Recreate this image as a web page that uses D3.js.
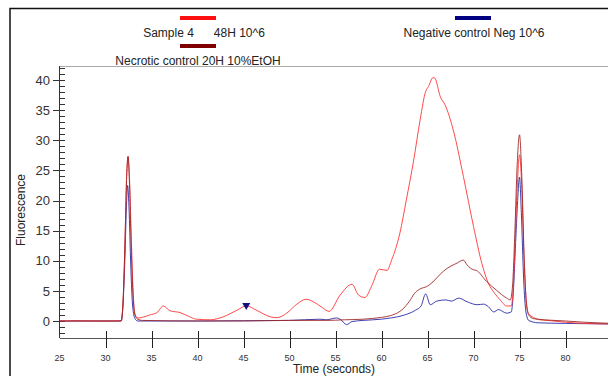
<!DOCTYPE html>
<html>
<head>
<meta charset="utf-8">
<script src="https://cdn.jsdelivr.net/npm/d3@7"></script>
<style>
  body { margin: 0; background: #fff; }
  svg { display: block; font-family: "Liberation Sans", Arial, sans-serif; }
</style>
</head>
<body>
<div id="chart"></div>
<script>
// Sample 4  48H 10^6
const sampleT = [25, 27, 29, 31, 31.7, 31.9, 32.1, 32.3, 32.45, 32.6, 32.8, 33.0, 33.2, 33.5, 34, 34.8, 35.6, 36.3, 37.0, 38.1, 39.0, 39.9, 41.4, 42.8, 44.3, 45.3, 46.4, 47.9, 48.6, 49.7, 50.8, 51.8, 52.6, 53.5, 54.3, 55.5, 56.8, 57.5, 58.2, 58.9, 59.8, 60.6, 61.1, 62.0, 62.7, 63.5, 64.2, 64.8, 65.1, 65.6, 65.8, 66.4, 66.9, 67.8, 68.9, 70.0, 70.9, 71.6, 72.3, 72.9, 73.6, 74.1, 74.3, 74.5, 74.75, 75.0, 75.25, 75.5, 75.75, 76.0, 76.5, 77.2, 78, 80, 82, 85];
const sampleV = [0, 0.05, 0, 0, 0.1, 3, 12, 24, 27.3, 24, 14, 5, 1.2, 0.5, 0.6, 1.0, 1.4, 2.5, 1.7, 1.4, 0.8, 0.3, 0.2, 0.7, 1.8, 2.5, 1.8, 0.7, 0.55, 1.3, 2.8, 3.6, 3.2, 2.3, 1.6, 4.3, 6.1, 4.3, 3.9, 5.7, 8.6, 8.4, 10.1, 14.6, 20.1, 26.7, 33.4, 38.1, 38.9, 40.4, 40.3, 37.2, 35.9, 31.7, 24.0, 15.7, 9.6, 6.3, 4.6, 3.5, 2.5, 2.5, 5, 12, 22, 27.6, 22, 10, 3, 1.2, 0.6, 0.2, 0.1, -0.2, -0.4, -0.5];

// Necrotic control 20H 10%EtOH
const necroticT = [25, 31.7, 31.9, 32.1, 32.3, 32.45, 32.6, 32.8, 33.0, 33.2, 33.5, 34, 40, 45, 50, 54, 56, 58, 60, 61, 62, 62.4, 63, 63.6, 64.3, 64.9, 65.6, 66.4, 67.1, 68.2, 68.9, 69.3, 70.0, 70.3, 71.4, 72.5, 73.6, 74.0, 74.25, 74.5, 74.75, 75.0, 75.25, 75.5, 75.75, 76.0, 76.5, 77, 80, 82, 85];
const necroticV = [0, 0, 3, 12, 24, 27.3, 23, 12, 4, 1, 0.3, 0.1, 0, 0, 0.1, 0.1, 0.2, 0.3, 0.6, 0.9, 1.6, 2.1, 3.2, 4.6, 5.4, 5.7, 6.5, 7.8, 8.7, 9.6, 10.1, 9.3, 8.5, 8.4, 6.6, 5.1, 3.8, 3.5, 6, 15, 26, 30.9, 24, 11, 3, 1.0, 0.4, 0.3, 0, -0.2, -0.4];

// Negative control Neg 10^6
const negativeT = [25, 31.7, 31.9, 32.1, 32.3, 32.4, 32.55, 32.75, 32.95, 33.2, 33.5, 40, 45, 50, 53.3, 54, 55.1, 55.6, 56.2, 56.8, 58, 60, 61, 62.5, 63.7, 64.3, 64.8, 65.3, 66, 67, 67.6, 68.4, 69.3, 70.4, 71.1, 71.6, 72.2, 72.7, 73.6, 74.1, 74.3, 74.55, 74.8, 75.0, 75.2, 75.45, 75.7, 76.0, 77, 80, 85];
const negativeV = [0, 0, 2.5, 10, 20, 22.5, 19, 9, 2.5, 0.4, 0, 0, 0.05, 0.1, 0.3, 0.2, 0.5, 0.2, -0.6, -0.1, 0.1, 0.3, 0.5, 1.0, 1.8, 2.5, 4.5, 2.7, 3.3, 3.5, 3.3, 3.8, 3.2, 2.7, 2.8, 2.4, 1.5, 1.9, 1.3, 1.5, 4, 12, 20, 23.9, 18, 7, 1.5, 0.1, -0.3, -0.4, -0.5];

const xTicks = [25, 30, 35, 40, 45, 50, 55, 60, 65, 70, 75, 80];
const yTicks = [0, 5, 10, 15, 20, 25, 30, 35, 40];
const marker = {t: 45.3, v: 2.6};

const W = 608, H = 376;
const plot = {left: 60, right: 608, top: 66, bottom: 338};

const svg = d3.select("#chart").append("svg")
  .attr("width", W).attr("height", H);

// outer frame
svg.append("path")
  .attr("d", `M10,${H} L10,8.5 L${W},8.5`)
  .attr("fill", "none").attr("stroke", "#111").attr("stroke-width", 1.5);

const x = d3.scaleLinear().domain([25, 80]).range([59.5, 565.5]);
const y = d3.scaleLinear().domain([0, 40]).range([321, 80]);

// plot frame top line
svg.append("line")
  .attr("x1", plot.left).attr("x2", plot.right)
  .attr("y1", plot.top + 0.5).attr("y2", plot.top + 0.5)
  .attr("stroke", "#aaa");

svg.append("clipPath").attr("id", "clip")
  .append("rect")
  .attr("x", plot.left).attr("y", plot.top)
  .attr("width", plot.right - plot.left).attr("height", plot.bottom - plot.top);

// y axis
const yAxis = svg.append("g");
yAxis.append("line")
  .attr("x1", 59.5).attr("x2", 59.5)
  .attr("y1", plot.top).attr("y2", plot.bottom)
  .attr("stroke", "#333");
const minor = d3.range(-2, 43);
yAxis.selectAll(".minor").data(minor).enter().append("line")
  .attr("x1", 59.5).attr("x2", 65)
  .attr("y1", d => Math.round(y(d)) + 0.5).attr("y2", d => Math.round(y(d)) + 0.5)
  .attr("stroke", "#333");
yAxis.selectAll(".major").data(yTicks).enter().append("line")
  .attr("x1", 53).attr("x2", 65)
  .attr("y1", d => Math.round(y(d)) + 0.5).attr("y2", d => Math.round(y(d)) + 0.5)
  .attr("stroke", "#333");
yAxis.selectAll("text").data(yTicks).enter().append("text")
  .attr("x", 50).attr("y", d => y(d))
  .attr("dy", "0.36em")
  .attr("text-anchor", "end")
  .attr("font-size", 13).attr("fill", "#333")
  .text(d => d);

svg.append("text")
  .attr("transform", "translate(25,210) rotate(-90)")
  .attr("text-anchor", "middle")
  .attr("font-size", 12).attr("fill", "#222")
  .text("Fluorescence");

// x axis
const xAxis = svg.append("g");
xAxis.append("line")
  .attr("x1", plot.left).attr("x2", plot.right)
  .attr("y1", plot.bottom + 0.5).attr("y2", plot.bottom + 0.5)
  .attr("stroke", "#555");
xAxis.selectAll(".tick").data(xTicks.slice(1)).enter().append("line")
  .attr("x1", d => Math.round(x(d)) + 0.5).attr("x2", d => Math.round(x(d)) + 0.5)
  .attr("y1", 331).attr("y2", 348)
  .attr("stroke", "#222");
xAxis.selectAll("text").data(xTicks).enter().append("text")
  .attr("x", d => x(d)).attr("y", 361)
  .attr("text-anchor", "middle")
  .attr("font-size", 9).attr("fill", "#333")
  .text(d => d);

svg.append("text")
  .attr("x", 334).attr("y", 373)
  .attr("text-anchor", "middle")
  .attr("font-size", 12).attr("fill", "#222")
  .text("Time (seconds)");

// lines
const line = d3.line()
  .x(d => x(d[0]))
  .y(d => y(d[1]))
  .curve(d3.curveMonotoneX);

const series = [
  {t: negativeT, v: negativeV, color: "#2a2aa8"},
  {t: sampleT, v: sampleV, color: "#ff3535"},
  {t: necroticT, v: necroticV, color: "#a02828"}
];

const lines = svg.append("g").attr("clip-path", "url(#clip)");
series.forEach(s => {
  lines.append("path")
    .datum(d3.zip(s.t, s.v))
    .attr("fill", "none")
    .attr("stroke", s.color)
    .attr("stroke-width", 0.9)
    .attr("d", line);
});

// marker
svg.append("path")
  .attr("d", d3.symbol(d3.symbolTriangle, 28)())
  .attr("transform", `translate(${x(marker.t)},${y(marker.v)}) rotate(180)`)
  .attr("fill", "#101080");

// legend
const legend = [
  {label: "Sample 4      48H 10^6", color: "#ff1010", sx: 180, sy: 16, tx: 204, ty: 37},
  {label: "Necrotic control 20H 10%EtOH", color: "#800000", sx: 180, sy: 44, tx: 198, ty: 65},
  {label: "Negative control Neg 10^6", color: "#000080", sx: 455, sy: 16, tx: 474, ty: 37}
];
const lg = svg.append("g");
lg.selectAll("rect").data(legend).enter().append("rect")
  .attr("x", d => d.sx).attr("y", d => d.sy)
  .attr("width", 36).attr("height", 4)
  .attr("fill", d => d.color);
lg.selectAll("text").data(legend).enter().append("text")
  .attr("x", d => d.tx).attr("y", d => d.ty)
  .attr("text-anchor", "middle")
  .attr("font-size", 12).attr("fill", "#222")
  .style("white-space", "pre")
  .text(d => d.label);
</script>
</body>
</html>
